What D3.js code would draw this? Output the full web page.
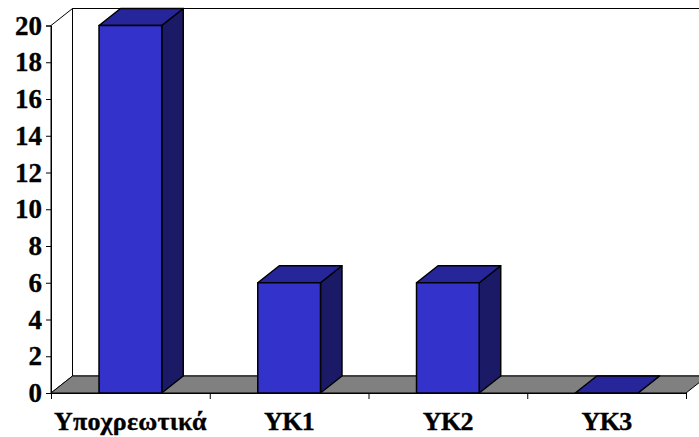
<!DOCTYPE html>
<html>
<head>
<meta charset="utf-8">
<script src="https://cdn.jsdelivr.net/npm/d3@7/dist/d3.min.js"></script>
<style>
html, body { margin: 0; padding: 0; background: #fff; }
svg { display: block; }
text { font-family: "Liberation Serif", serif; font-weight: bold; fill: #000; stroke: #000; stroke-width: 0.35px; }
</style>
</head>
<body>
<svg id="chart" width="699" height="437"></svg>
<script>
const categories = ["Υποχρεωτικά", "ΥΚ1", "ΥΚ2", "ΥΚ3"];
const values = [20, 6, 6, 0];
const yTicks = [0, 2, 4, 6, 8, 10, 12, 14, 16, 18, 20];

const width = 699, height = 437;
const plot = { left: 51, right: 686, top: 25.5, bottom: 393 };
const depth = { x: 21.5, y: -17 };
const colors = { front: "#3333cc", top: "#26269a", side: "#1a1a66", floor: "#808080", wall: "#ffffff" };

const svg = d3.select("#chart");

const x = d3.scaleBand().domain(categories).range([plot.left, plot.right]).paddingInner(0).paddingOuter(0);
const y = d3.scaleLinear().domain([0, 20]).range([plot.bottom, plot.top]);
const barWidth = x.bandwidth() * 0.395;
const barX = d => x(d) + (x.bandwidth() - barWidth) / 2;

const poly = pts => pts.map(p => p.join(",")).join(" ");

// Back wall and side wall, drawn behind the bars
const walls = svg.append("g").attr("stroke", "#000").attr("stroke-width", 1);
walls.append("polygon")
  .attr("points", poly([
    [plot.left + depth.x, plot.top + depth.y],
    [plot.right + depth.x, plot.top + depth.y],
    [plot.right + depth.x, plot.bottom + depth.y],
    [plot.left + depth.x, plot.bottom + depth.y]
  ]))
  .attr("fill", colors.wall);
walls.append("polygon")
  .attr("points", poly([
    [plot.left, plot.top],
    [plot.left + depth.x, plot.top + depth.y],
    [plot.left + depth.x, plot.bottom + depth.y],
    [plot.left, plot.bottom]
  ]))
  .attr("fill", colors.wall);

// Floor
walls.append("polygon")
  .attr("points", poly([
    [plot.left, plot.bottom],
    [plot.left + depth.x, plot.bottom + depth.y],
    [plot.right + depth.x, plot.bottom + depth.y],
    [plot.right, plot.bottom]
  ]))
  .attr("fill", colors.floor);

// Extruded bars: front face, top face, right side
const bars = svg.append("g").selectAll("g")
  .data(categories.map((c, i) => ({ c, v: values[i] })))
  .join("g")
  .attr("stroke", "#000")
  .attr("stroke-width", 1.5)
  .attr("stroke-linejoin", "round");

bars.append("polygon")
  .attr("fill", colors.side)
  .attr("points", d => {
    const r = barX(d.c) + barWidth;
    return poly([
      [r, y(d.v)], [r + depth.x, y(d.v) + depth.y],
      [r + depth.x, y(0) + depth.y], [r, y(0)]
    ]);
  });
bars.append("polygon")
  .attr("fill", colors.top)
  .attr("points", d => {
    const l = barX(d.c), r = l + barWidth;
    return poly([
      [l, y(d.v)], [l + depth.x, y(d.v) + depth.y],
      [r + depth.x, y(d.v) + depth.y], [r, y(d.v)]
    ]);
  });
bars.filter(d => d.v > 0).append("rect")
  .attr("fill", colors.front)
  .attr("x", d => barX(d.c))
  .attr("y", d => y(d.v))
  .attr("width", barWidth)
  .attr("height", d => y(0) - y(d.v));

// Value axis
const yAxis = svg.append("g")
  .attr("transform", `translate(${plot.left},0)`)
  .call(d3.axisLeft(y).tickValues(yTicks).tickSize(5).tickPadding(4).tickFormat(d3.format("d")));
yAxis.selectAll("text").attr("font-size", 27).style("font-family", '"Liberation Serif", serif');
yAxis.selectAll("line, path").attr("stroke", "#000").attr("stroke-width", 1);

// Category axis: ticks fall on the band edges
const edges = categories.map(c => x(c)).concat(plot.right);
const edgeScale = d3.scaleIdentity().domain([plot.left, plot.right]);
const xTicks = svg.append("g")
  .attr("transform", `translate(0,${plot.bottom})`)
  .call(d3.axisBottom(edgeScale).tickValues(edges).tickSize(6).tickSizeOuter(0).tickFormat(""));
xTicks.selectAll("line, path").attr("stroke", "#000").attr("stroke-width", 1);

const xLabels = svg.append("g")
  .attr("transform", `translate(0,${plot.bottom})`)
  .call(d3.axisBottom(x).tickSize(0).tickPadding(19));
xLabels.select("path").remove();
xLabels.selectAll("text")
  .attr("font-size", 26)
  .attr("letter-spacing", d => d.length > 3 ? 0.25 : -0.6)
  .style("font-family", '"Liberation Serif", serif');
</script>
</body>
</html>
